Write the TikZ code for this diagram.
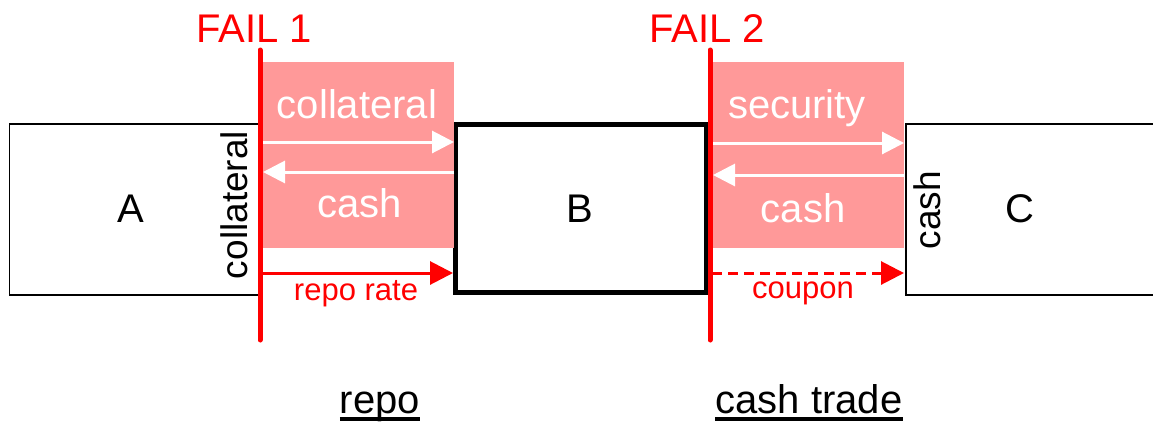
\documentclass[tikz,border=0pt]{standalone}
\usepackage{fontspec}
\setmainfont{Liberation Sans}
\usetikzlibrary{arrows.meta}
\definecolor{pinkfill}{RGB}{255,153,153}
\begin{document}
\begin{tikzpicture}[x=1pt,y=-1pt,
  thinbox/.style={draw=black, line width=1.5pt, minimum width=#1, minimum height=171pt, inner sep=0pt},
  thinline/.style={draw=black, line width=1.5pt},
  thickbox/.style={draw=black, line width=5pt, minimum width=250.5pt, minimum height=168pt, inner sep=0pt},
  pinkbox/.style={fill=pinkfill, draw=none, minimum width=191pt, minimum height=186pt, inner sep=0pt},
  failline/.style={draw=red, line width=5pt, line cap=round},
  whitearrow/.style={draw=white, line width=3pt, -{Triangle[length=22pt,width=22pt]}},
  redarrow/.style={draw=red, line width=3pt, -{Triangle[length=23pt,width=23pt]}},
  wtext/.style={text=white, font=\fontsize{40}{48}\selectfont, inner sep=0pt, anchor=base},
  rtext/.style={text=red, font=\fontsize{31}{36}\selectfont, inner sep=0pt, anchor=base},
  failtext/.style={text=red, font=\fontsize{40}{48}\selectfont, inner sep=0pt, anchor=base},
  letter/.style={font=\fontsize{40}{48}\selectfont, inner sep=0pt, anchor=base},
  vtext/.style={font=\fontsize{37}{44}\selectfont, inner sep=0pt, anchor=base, rotate=90},
  caption/.style={font=\fontsize{40}{48}\selectfont, inner sep=0pt, anchor=base},
  uline/.style={draw=black, line width=3.5pt}
]
\useasboundingbox (0,0) rectangle (1153,423);

% boxes
\node[thinbox=250pt] (A) at (134.5,209.5) {};
\node[minimum width=260pt, minimum height=171pt, inner sep=0pt] (C) at (1036,209.5) {};
\draw[thinline] ([xshift=20pt]C.north east) -- (C.north west) -- (C.south west) -- ([xshift=20pt]C.south east);
\node[thickbox] (B) at (581,208.5) {};

% pink backgrounds
\node[pinkbox] (P1) at (358.5,155) {};
\node[pinkbox] (P2) at (808.5,155) {};

% letters
\node[letter] (lA) at (131,222) {A};
\node[letter] (lB) at (580,222) {B};
\node[letter] (lC) at (1020,222) {C};

% repo flows
\coordinate (r1s) at (263,142);
\coordinate (r1e) at (454,142);
\coordinate (r2s) at (454,172);
\coordinate (r2e) at (263,172);
\draw[whitearrow] (r1s) -- (r1e);
\draw[whitearrow] (r2s) -- (r2e);
\node[wtext] (t1) at (357,118) {collateral};
\node[wtext] (t2) at (360,217) {cash};

\coordinate (rr1) at (262,273);
\coordinate (rr2) at (453,273);
\draw[redarrow] (rr1) -- (rr2);
\node[rtext] (t3) at (356,300) {repo rate};

% cash trade flows
\coordinate (c1s) at (713,143);
\coordinate (c1e) at (904,143);
\coordinate (c2s) at (904,175);
\coordinate (c2e) at (713,175);
\draw[whitearrow] (c1s) -- (c1e);
\draw[whitearrow] (c2s) -- (c2e);
\node[wtext] (t4) at (797,118) {security};
\node[wtext] (t5) at (803,222) {cash};

\coordinate (cc1) at (712,273);
\coordinate (cc2) at (904,273);
\draw[redarrow, dash pattern=on 10pt off 6pt] (cc1) -- (cc2);
\node[rtext] (t6) at (803,298) {coupon};

% vertical texts
\node[vtext] (v1) at (247,205) {collateral};
\node[vtext] (v2) at (940,210) {cash};

% fail lines
\coordinate (f1t) at (260,50);
\coordinate (f1b) at (260,340);
\coordinate (f2t) at (710,50);
\coordinate (f2b) at (710,340);
\draw[failline] (f1t) -- (f1b);
\draw[failline] (f2t) -- (f2b);
\node[failtext] (F1) at (254,42) {FAIL 1};
\node[failtext] (F2) at (707,42) {FAIL 2};

% captions
\node[caption] (cap1) at (380,413) {repo};
\node[caption] (cap2) at (809,413) {cash trade};
\draw[uline] ([yshift=-6pt]cap1.base west) -- ([yshift=-6pt]cap1.base east);
\draw[uline] ([yshift=-6pt]cap2.base west) -- ([yshift=-6pt]cap2.base east);
\end{tikzpicture}
\end{document}
